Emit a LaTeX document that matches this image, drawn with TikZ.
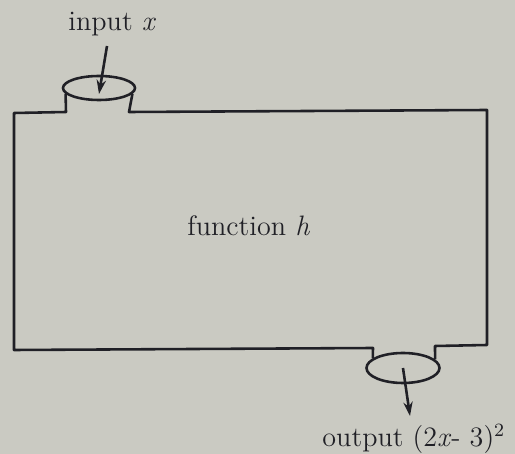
\documentclass[tikz,border=0pt]{standalone}
\usepackage{tikz}
\usetikzlibrary{arrows.meta,positioning,shapes.geometric}
\definecolor{paper}{RGB}{202,202,194}
\definecolor{ink}{RGB}{32,32,38}

\begin{document}
\begin{tikzpicture}[x=0.015cm,y=-0.015cm,
    outline/.style={draw=ink,line width=1.1pt,line join=round},
    cup/.style={ellipse,draw=ink,line width=1.1pt,inner sep=0pt},
    flow/.style={draw=ink,line width=1.1pt,-{Stealth[length=6pt,width=4pt]}},
    lbl/.style={inner sep=0pt,anchor=base west,text=ink,font=\fontsize{12}{14}\selectfont}]

    % paper
    \fill[paper] (0,0) rectangle (515,454);
    \useasboundingbox (0,0) rectangle (515,454);

    % cups
    \node[cup,minimum width=1.08cm,minimum height=0.36cm] (incup) at (99,88) {};
    \node[cup,minimum width=1.095cm,minimum height=0.45cm] (outcup) at (403,368) {};

    % box
    \draw[outline] (incup.350) -- (129,112) -- (487,110) -- (487,345) -- (435,346) -- (outcup.15);
    \draw[outline] (outcup.162) -- (373,348) -- (14,350) -- (14,113) -- (66,112) -- (incup.190);

    % in and out
    \coordinate (intail) at (107,46);
    \coordinate (inhead) at (99,94);
    \draw[flow] (intail) -- (inhead);
    \coordinate (outhead) at (410,416);
    \draw[flow] (outcup.center) -- (outhead);

    % texts
    \node[lbl] (inlabel) at (68,31) {input \textit{x}};
    \node[lbl] (func) at (187,236) {function \textit{h}};
    \node[lbl] (outlabel) at (322,447) {output (2\textit{x}- 3)\textsuperscript{2}};

\end{tikzpicture}
\end{document}
